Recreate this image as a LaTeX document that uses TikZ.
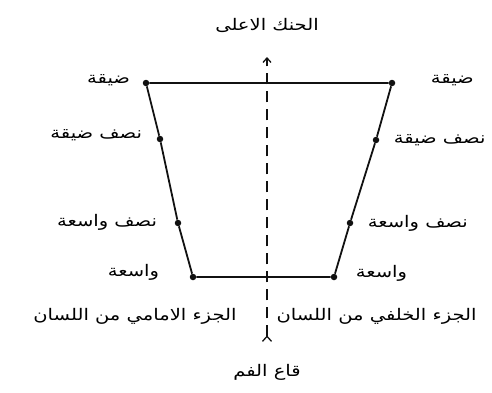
\documentclass[tikz,border=0pt]{standalone}
\usepackage{fontspec}
\usetikzlibrary{arrows.meta, positioning}
\TeXXeTstate=1
\newfontfamily\arabicfont[Script=Arabic, FakeStretch=1.22]{DejaVu Sans}
\definecolor{inkdark}{HTML}{111111}
\newcommand{\ar}[1]{\arabicfont\beginR #1\endR}

\begin{document}
\begin{tikzpicture}[x=1pt, y=-1pt,
  font=\arabicfont\fontsize{16}{18}\selectfont,
  dot/.style={circle, fill=inkdark, inner sep=0pt, minimum size=6.5pt},
  edge/.style={inkdark, line width=1.8pt},
  axis/.style={inkdark, line width=1.3pt, dash pattern=on 11pt off 7pt}]
  \useasboundingbox (0,0) rectangle (492,392);
  \foreach \name/\px/\py in {fl1/146/83, fl2/160/139, fl3/178/223, fl4/193/277,
                             bk1/392/83, bk2/376/140, bk3/350/223, bk4/334/277}{%
    \node[dot] (\name) at (\px,\py) {};}
  \draw[edge] (fl1) -- (bk1) -- (bk2) -- (bk3) -- (bk4)
              -- (fl4) -- (fl3) -- (fl2) -- (fl1);
  \foreach \name/\lab/\gap/\lift in {fl1/ضيقة/9/3, fl2/نصف ضيقة/11/4,
                                     fl3/نصف واسعة/14/1, fl4/واسعة/27/5}{%
    \node[left=\gap pt of \name, yshift=\lift pt] (lab-\name) {\ar{\lab}};}
  \foreach \name/\lab/\gap/\lift in {bk1/ضيقة/32/3, bk2/نصف ضيقة/11/0,
                                     bk3/نصف واسعة/11/0, bk4/واسعة/15/4}{%
    \node[right=\gap pt of \name, yshift=\lift pt] (lab-\name) {\ar{\lab}};}
  \coordinate (roof) at (267,57);
  \coordinate (floor) at (267,342);
  \draw[axis, {Straight Barb[reversed, length=5pt, width=9pt]}-{Straight Barb[length=4.5pt, width=8pt]}]
    (floor) -- (roof);
  \node (palate) at (267,25) {\ar{الحنك الاعلى}};
  \node (mouth) at (267,372) {\ar{قاع الفم}};
  \node[anchor=east] (front) at (240,316) {\ar{الجزء الامامي من اللسان}};
  \node[anchor=west] (back) at (273,316) {\ar{الجزء الخلفي من اللسان}};
\end{tikzpicture}
\end{document}
